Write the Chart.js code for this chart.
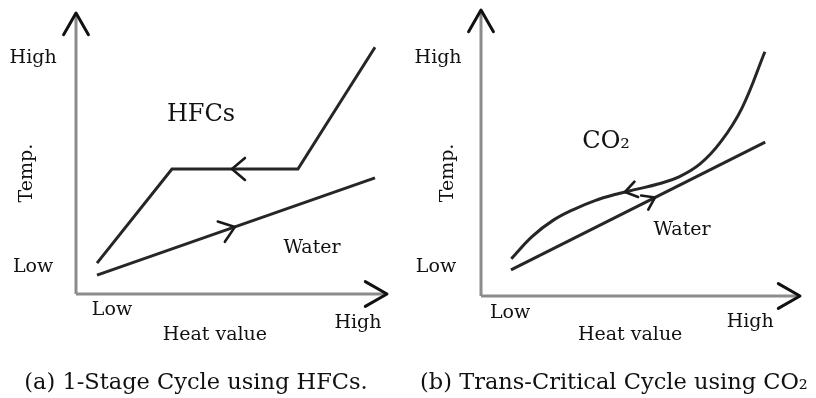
<!DOCTYPE html>
<html><head><meta charset="utf-8">
<script src="https://cdn.jsdelivr.net/npm/chart.js@4.4.0/dist/chart.umd.min.js"></script>
<style>
html,body{margin:0;padding:0;background:#fff;}
#wrap{display:flex;width:816px;height:398px;}
.p{position:relative;width:408px;height:398px;}
canvas{display:block;}
</style></head><body>
<div id="wrap"><div class="p"><canvas id="ca" width="408" height="398"></canvas></div><div class="p"><canvas id="cb" width="408" height="398"></canvas></div></div>
<script>
// ---------- DATA ----------
// Panel (a): 1-Stage Cycle using HFCs  (x: heat value, y: temperature, arbitrary units)
const hfcX   = [7, 32, 74, 99.7];
const hfcY   = [10.3, 41.7, 41.7, 82.3];
const waterAX = [7, 99.7];
const waterAY = [6.3, 38.7];
// Panel (b): Trans-Critical Cycle using CO2
const co2X   = [10.1, 17, 24, 31, 38, 45, 52, 59, 66, 73, 80, 87, 94.6];
const co2Y   = [12.4, 19.8, 25.2, 28.9, 31.8, 33.9, 35.6, 37.3, 39.7, 44.0, 51.5, 62.7, 81.4];
const waterBX = [10, 94.7];
const waterBY = [8.7, 51.3];
// Tick labels and texts
const tickLabels = ['Low', 'High'];
const xTitle = 'Heat value';
const yTitle = 'Temp.';
const captionA = '(a) 1-Stage Cycle using HFCs.';
const captionB = '(b) Trans-Critical Cycle using CO\u2082';
const seriesLabelA = ['HFCs', 'Water'];
const seriesLabelB = ['CO\u2082', 'Water'];

// ---------- HELPERS ----------
function pts(xs, ys){ return xs.map((x,i)=>({x:x, y:ys[i]})); }
const FONT = '"DejaVu Serif", "Liberation Serif", serif';
const INK = '#111';

function pointOnCurve(meta, px){
  const p = meta.data;
  for(let i=0;i<p.length-1;i++){
    const a=p[i], b=p[i+1];
    if((px-a.x)*(px-b.x) <= 0){
      const c1x = (a.cp2x!==undefined)?a.cp2x:a.x, c1y=(a.cp2y!==undefined)?a.cp2y:a.y;
      const c2x = (b.cp1x!==undefined)?b.cp1x:b.x, c2y=(b.cp1y!==undefined)?b.cp1y:b.y;
      const bz=(t,p0,p1,p2,p3)=>{const u=1-t;return u*u*u*p0+3*u*u*t*p1+3*u*t*t*p2+t*t*t*p3;};
      const dz=(t,p0,p1,p2,p3)=>{const u=1-t;return 3*u*u*(p1-p0)+6*u*t*(p2-p1)+3*t*t*(p3-p2);};
      let lo=0, hi=1;
      const inc = b.x > a.x;
      for(let k=0;k<40;k++){
        const m=(lo+hi)/2; const xm=bz(m,a.x,c1x,c2x,b.x);
        if((xm<px)===inc) lo=m; else hi=m;
      }
      const t=(lo+hi)/2;
      return {x:bz(t,a.x,c1x,c2x,b.x), y:bz(t,a.y,c1y,c2y,b.y),
              dx:dz(t,a.x,c1x,c2x,b.x), dy:dz(t,a.y,c1y,c2y,b.y)};
    }
  }
  return null;
}
function chevron(ctx, x, y, dx, dy, len, ang, color, lw){
  const n=Math.hypot(dx,dy); const ux=-dx/n, uy=-dy/n;
  const r=(vx,vy,a)=>[vx*Math.cos(a)-vy*Math.sin(a), vx*Math.sin(a)+vy*Math.cos(a)];
  const w1=r(ux,uy,ang), w2=r(ux,uy,-ang);
  ctx.save(); ctx.strokeStyle=color; ctx.lineWidth=lw; ctx.lineCap='round'; ctx.lineJoin='round';
  ctx.beginPath();
  ctx.moveTo(x+w1[0]*len, y+w1[1]*len); ctx.lineTo(x,y); ctx.lineTo(x+w2[0]*len, y+w2[1]*len);
  ctx.stroke(); ctx.restore();
}

const decoPlugin = {
  id:'deco',
  afterDatasetsDraw(chart){
    const o = chart.options.plugins.deco;
    const ctx = chart.ctx, xs=chart.scales.x, ys=chart.scales.y;
    o.axisArrows.forEach(ai=>{
      const d = chart.getDatasetMeta(ai).data;
      const a=d[0], b=d[d.length-1];
      chevron(ctx, b.x, b.y, b.x-a.x, b.y-a.y, 25, 0.52, '#111', 3);
    });
    o.flowArrows.forEach(fa=>{
      const meta = chart.getDatasetMeta(fa.ds);
      const q = pointOnCurve(meta, xs.getPixelForValue(fa.at));
      if(!q) return;
      const s = fa.dir;
      chevron(ctx, q.x, q.y, q.dx*s, q.dy*s, fa.len, fa.ang, '#1a1a1a', 2.6);
    });
    o.texts.forEach(t=>{
      ctx.save();
      ctx.fillStyle = INK;
      ctx.font = t.size+'px '+FONT;
      ctx.textAlign='center'; ctx.textBaseline='middle';
      ctx.translate(xs.getPixelForValue(t.x), ys.getPixelForValue(t.y));
      if(t.rot) ctx.rotate(t.rot);
      ctx.fillText(t.text, 0, 0);
      ctx.restore();
    });
  }
};

function makeChart(id, cfg){
  const curveStyle = {borderColor:'#262626', borderWidth:3, pointRadius:0, fill:false, clip:false};
  const axisStyle = {borderColor:'#8c8c8c', borderWidth:3, pointRadius:0, fill:false, clip:false, tension:0};
  return new Chart(document.getElementById(id), {
    type:'line',
    data:{datasets:[
      Object.assign({label:'x-axis', data:[{x:0,y:0},{x:cfg.xmax,y:0}]}, axisStyle),
      Object.assign({label:'y-axis', data:[{x:0,y:0},{x:0,y:cfg.ymax}]}, axisStyle),
      Object.assign({label:cfg.names[0], data:cfg.ref, tension:cfg.refTension, cubicInterpolationMode:'default'}, curveStyle),
      Object.assign({label:cfg.names[1], data:cfg.water, tension:0}, curveStyle)
    ]},
    options:{
      responsive:false, animation:false, events:[],
      layout:{padding:cfg.pad},
      scales:{
        x:{type:'linear', display:false, min:0, max:cfg.xmax},
        y:{type:'linear', display:false, min:0, max:cfg.ymax}
      },
      plugins:{legend:{display:false}, tooltip:{enabled:false},
        deco:{axisArrows:[0,1], flowArrows:cfg.arrows, texts:cfg.texts}}
    },
    plugins:[decoPlugin]
  });
}

makeChart('ca', {
  xmax:103.7, ymax:93.7,
  pad:{left:76, right:21, top:13, bottom:104},
  ref:pts(hfcX,hfcY), refTension:0,
  water:pts(waterAX,waterAY),
  names:seriesLabelA,
  arrows:[{ds:2, at:52, dir:-1, len:17, ang:0.7},{ds:3, at:53, dir:1, len:18, ang:0.64}],
  texts:[
    {text:tickLabels[1], x:-14.3, y:78.7, size:19},
    {text:tickLabels[0], x:-14.3, y:9, size:19},
    {text:yTitle, x:-16.3, y:40.3, size:19, rot:-Math.PI/2},
    {text:seriesLabelA[0], x:41.7, y:59.7, size:24},
    {text:seriesLabelA[1], x:78.7, y:15.3, size:19},
    {text:tickLabels[0], x:12, y:-5.3, size:19},
    {text:tickLabels[1], x:94, y:-9.7, size:19},
    {text:xTitle, x:46.3, y:-13.7, size:19},
    {text:captionA, x:40, y:-29.7, size:22.5}
  ]
});

makeChart('cb', {
  xmax:106.3, ymax:95.3,
  pad:{left:73, right:16, top:10, bottom:102},
  ref:pts(co2X,co2Y), refTension:0.4,
  water:pts(waterBX,waterBY),
  names:seriesLabelB,
  arrows:[{ds:2, at:48, dir:-1, len:14, ang:0.6},{ds:3, at:58, dir:1, len:14, ang:0.6}],
  texts:[
    {text:tickLabels[1], x:-14.3, y:79.3, size:19},
    {text:tickLabels[0], x:-15, y:9.7, size:19},
    {text:yTitle, x:-11, y:41, size:19, rot:-Math.PI/2},
    {text:seriesLabelB[0], x:41.7, y:51.3, size:24},
    {text:seriesLabelB[1], x:67, y:22, size:19},
    {text:tickLabels[0], x:9.7, y:-5.7, size:19},
    {text:tickLabels[1], x:89.7, y:-8.7, size:19},
    {text:xTitle, x:49.7, y:-13, size:19},
    {text:captionB, x:44.3, y:-29, size:22.5}
  ]
});
</script>
</body></html>
